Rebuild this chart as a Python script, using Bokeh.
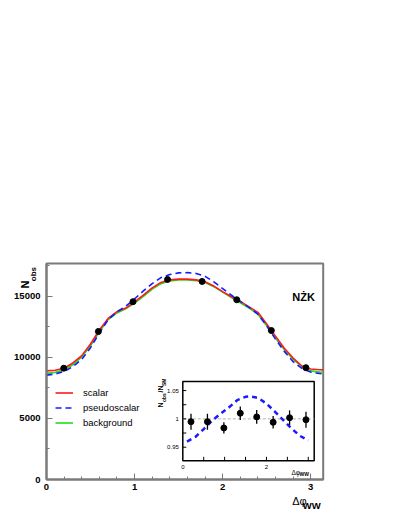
import math
from bokeh.plotting import figure
from bokeh.models import Range1d, FixedTicker, Label, Legend, LegendItem
from bokeh.core.properties import value
from bokeh.embed import file_html
from bokeh.resources import INLINE

# ---------------- data ----------------
BIN_X = [0.196, 0.589, 0.982, 1.374, 1.767, 2.160, 2.553, 2.945]
N_OBS = [9120, 12130, 14570, 16390, 16230, 14730, 12210, 9160]

CURVE_X = [0.0, 0.1, 0.2, 0.3, 0.4, 0.5, 0.6, 0.7, 0.8, 0.9, 1.0, 1.1, 1.2,
           1.3, 1.4, 1.5, 1.6, 1.7, 1.8, 1.9, 2.0, 2.1, 2.2, 2.3, 2.4, 2.5,
           2.6, 2.7, 2.8, 2.9, 3.0, 3.1, 3.1416]
SCALAR = [8900, 8950, 9120, 9550, 10150, 11100, 12250, 13200, 13750, 14050,
          14550, 15100, 15700, 16150, 16360, 16420, 16420, 16360, 16200,
          15850, 15400, 14980, 14600, 14150, 13700, 12750, 11750, 10750,
          9950, 9300, 9050, 8990, 8980]
PSEUDOSCALAR = [8550, 8650, 8850, 9250, 9850, 10800, 12000, 13100, 13750,
                14200, 14800, 15450, 16050, 16550, 16800, 16930, 16950,
                16880, 16650, 16200, 15650, 15100, 14600, 14100, 13550,
                12600, 11500, 10500, 9650, 9100, 8800, 8680, 8650]
BACKGROUND = [8700, 8780, 8980, 9400, 10050, 10950, 12100, 13100, 13650,
              13980, 14450, 15000, 15600, 16050, 16280, 16350, 16350, 16300,
              16150, 15800, 15350, 14900, 14480, 14050, 13550, 12600, 11600,
              10650, 9850, 9250, 8900, 8800, 8780]

RATIO_X = [0.1, 0.3, 0.5, 0.7, 0.9, 1.1, 1.3, 1.5, 1.6, 1.8, 2.0, 2.2, 2.4,
           2.6, 2.8, 3.0]
RATIO_PS = [0.960, 0.968, 0.982, 0.997, 1.009, 1.020, 1.033, 1.039, 1.040,
            1.037, 1.027, 1.013, 0.998, 0.983, 0.970, 0.962]
RATIO_OBS = [0.995, 0.995, 0.984, 1.010, 1.0035, 0.994, 1.002, 0.9985]
RATIO_ERR = [0.014, 0.014, 0.010, 0.012, 0.012, 0.011, 0.013, 0.014]

MAIN_X = [0.0, 3.1416]
MAIN_Y = [0, 17700]
X_TICKS = [0, 1, 2, 3]
X_MINOR = [i * 0.2 for i in range(16)]
Y_TICKS = [0, 5000, 10000, 15000]
Y_MINOR = [2500, 7500, 12500, 17500]

INSET_X = [0.0, 3.1416]
INSET_Y = [0.926, 1.066]
INSET_XTICKS = [0.5, 1.0, 1.5, 2.0, 2.5, 3.0]
INSET_XLABELS = ["0", "2"]
INSET_XLABEL_POS = [0.0, 2.0]
INSET_YTICKS = [0.95, 0.975, 1.0, 1.025, 1.05]
INSET_YLABELS = ["0.95", "1", "1.05"]
INSET_YLABEL_POS = [0.95, 1.0, 1.05]

FONT = "Liberation Sans"
GRAY = "#7a7a7a"

# ---------------- layout geometry (pixels) ----------------
W, H = 390, 514
ML, MR, MT, MB = 46.0, 322.7, 263.0, 479.0       # main box
IL, IR, IT, IB = 182.3, 313.7, 381.0, 460.3      # inset box


def span(lo, hi, plo, phi, total, flip=False):
    s = (phi - plo) / (hi - lo)
    if flip:  # pixel measured from top
        return Range1d(lo - (total - phi) / s, hi + plo / s)
    return Range1d(lo - plo / s, hi + (total - phi) / s)


p = figure(width=W, height=H, output_backend="svg", toolbar_location=None,
           x_range=span(MAIN_X[0], MAIN_X[1], ML, MR, W),
           y_range=span(MAIN_Y[0], MAIN_Y[1], MT, MB, H, flip=True),
           min_border_left=0, min_border_right=0, min_border_top=0,
           min_border_bottom=0)
p.grid.visible = False
p.outline_line_color = None
p.border_fill_color = "white"

# main box outline
p.quad(left=[MAIN_X[0]], right=[MAIN_X[1]], bottom=[MAIN_Y[0]],
       top=[MAIN_Y[1]], fill_color=None, line_color=GRAY, line_width=2)

for ax in (p.xaxis[0], p.yaxis[0]):
    ax.fixed_location = 0
    ax.axis_line_color = GRAY
    ax.axis_line_width = 2
    ax.major_tick_line_color = GRAY
    ax.minor_tick_line_color = GRAY
    ax.major_tick_in = 6
    ax.major_tick_out = 0
    ax.minor_tick_in = 3
    ax.minor_tick_out = 0
    ax.major_label_text_font = FONT
    ax.major_label_text_font_style = "bold"
    ax.major_label_text_font_size = "9.5px"
    ax.major_label_text_color = "black"
p.xaxis.bounds = (MAIN_X[0], MAIN_X[1])
p.yaxis.bounds = (MAIN_Y[0], MAIN_Y[1])
p.xaxis.ticker = FixedTicker(ticks=X_TICKS, minor_ticks=X_MINOR)
p.yaxis.ticker = FixedTicker(ticks=Y_TICKS, minor_ticks=Y_MINOR)
p.xaxis.major_label_standoff = 4
p.yaxis.major_label_standoff = 6

# main curves
r_g = p.line(CURVE_X, BACKGROUND, line_color="#22dd22", line_width=1.6)
r_r = p.line(CURVE_X, SCALAR, line_color="#ff1a1a", line_width=1.6)
r_b = p.line(CURVE_X, PSEUDOSCALAR, line_color="#1a1aff", line_width=1.6,
             line_dash="6 4")
p.scatter(BIN_X, N_OBS, size=6, color="black")

legend = Legend(items=[LegendItem(label="scalar", renderers=[r_r]),
                       LegendItem(label="pseudoscalar", renderers=[r_b]),
                       LegendItem(label="background", renderers=[r_g])],
                location=(55, H - 430), padding=0, margin=0, spacing=0,
                glyph_width=18, glyph_height=15, label_height=15,
                label_standoff=10, label_text_font=FONT,
                label_text_font_size="9.5px", label_text_color="black",
                background_fill_alpha=0, border_line_alpha=0)
p.add_layout(legend)

# ---------------- inset (own ranges mapped onto a sub-box) ----------------
p.extra_x_ranges["ix"] = span(INSET_X[0], INSET_X[1], IL, IR, W)
p.extra_y_ranges["iy"] = span(INSET_Y[0], INSET_Y[1], IT, IB, H, flip=True)
kw = dict(x_range_name="ix", y_range_name="iy")

p.quad(left=[INSET_X[0]], right=[INSET_X[1]], bottom=[INSET_Y[0]],
       top=[INSET_Y[1]], fill_color="white", line_color="black",
       line_width=1.5, **kw)
p.line(INSET_X, [1.0, 1.0], line_color="#b0b0b0", line_dash="3 2",
       line_width=1, **kw)
p.ray(x=INSET_XTICKS, y=[INSET_Y[0]] * len(INSET_XTICKS), length=4,
      length_units="screen", angle=math.pi / 2, line_color="black",
      line_width=1, **kw)
p.ray(x=[INSET_X[0]] * len(INSET_YTICKS), y=INSET_YTICKS, length=3.5,
      length_units="screen", angle=0, line_color="black", line_width=1, **kw)
p.text(x=[INSET_X[0]] * 3, y=INSET_YLABEL_POS, text=INSET_YLABELS,
       x_offset=-4, text_align="right", text_baseline="middle",
       text_font=value(FONT), text_font_size="6px", text_color="black", **kw)
p.text(x=INSET_XLABEL_POS, y=[INSET_Y[0]] * 2, text=INSET_XLABELS,
       y_offset=4, text_align="center", text_baseline="top",
       text_font=value(FONT), text_font_size="6px", text_color="black", **kw)
p.line(RATIO_X, RATIO_PS, line_color="#1a1aff", line_width=2.5,
       line_dash="5 4", **kw)
lo = [v - e for v, e in zip(RATIO_OBS, RATIO_ERR)]
hi = [v + e for v, e in zip(RATIO_OBS, RATIO_ERR)]
p.segment(x0=BIN_X, y0=lo, x1=BIN_X, y1=hi, line_color="black",
          line_width=1.3, **kw)
p.scatter(BIN_X, RATIO_OBS, size=6, color="black", **kw)

# ---------------- texts ----------------
def lab(x, y, t, size, bold=False, angle=0.0):
    p.add_layout(Label(x=x, y=y, text=t, angle=angle, text_font=FONT,
                       text_font_size=size,
                       text_font_style="bold" if bold else "normal",
                       text_color="black", text_baseline="alphabetic",
                       text_align="left"))

half = math.pi / 2
# main y label  N_obs
lab(-0.239, 15650, "N", "11px", True, half)
lab(-0.151, 16250, "obs", "8px", True, half)
# main x label  Δφ_WW
lab(2.79, -1800, "Δφ", "11px", False)
lab(2.91, -2170, "WW", "9.5px", True)
# NŻK
lab(2.79, 14950, "NŻK", "11px", True)
# inset y label N_obs/N_SM
lab(1.2955, 5900, "N", "7px", True, half)
lab(1.335, 6350, "obs", "5px", True, half)
lab(1.2955, 7130, "/N", "7px", True, half)
lab(1.335, 7660, "SM", "5px", True, half)
# inset x label
lab(2.781, 600, "Δφ", "6.5px", False)
lab(2.872, 420, "WW", "5px", True)

open("out.html", "w").write(file_html(p, INLINE))
